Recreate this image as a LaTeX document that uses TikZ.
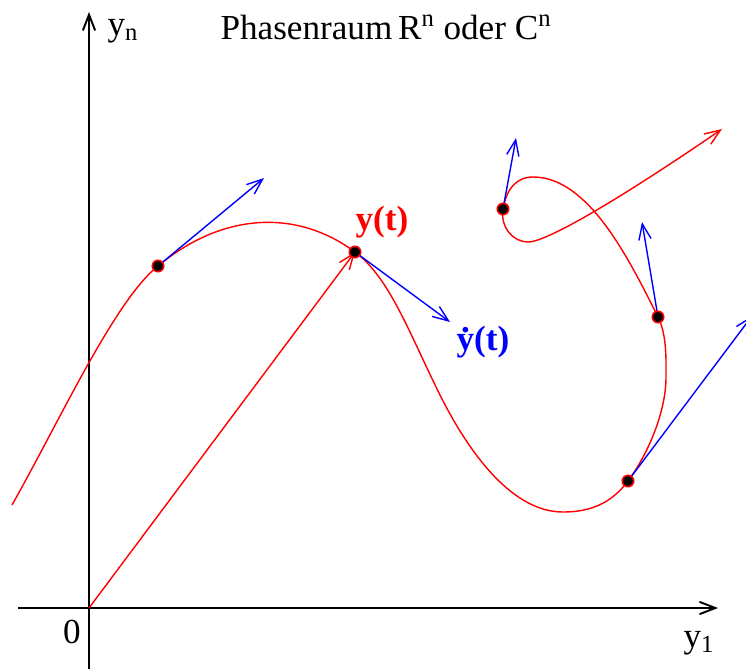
\documentclass[tikz,border=0pt]{standalone}
\usepackage{fontspec}
\setmainfont{Liberation Serif}
\usetikzlibrary{arrows.meta}
\newcommand{\ydot}{\ooalign{y\cr\hidewidth\raisebox{0.5em}{.}\hidewidth\cr}}

\begin{document}
\begin{tikzpicture}[x=0.02cm,y=-0.02cm,
  tip/.style={-{Straight Barb[length=9pt,width=7pt]}},
  dot/.style={circle,fill=black,draw=red,line width=0.9pt,inner sep=0pt,minimum size=6.5pt},
  lbl/.style={font=\fontsize{20}{24}\selectfont},
  bflbl/.style={font=\fontsize{20}{24}\selectfont\bfseries}]
  \useasboundingbox (0,0) rectangle (746,669);
  \clip (0,0) rectangle (746,669);

  % Axes
  \coordinate (O) at (89,608);
  \coordinate (Xs) at (18,608);
  \coordinate (X) at (718,608);
  \coordinate (Ys) at (89,669);
  \coordinate (Y) at (89,12);
  \draw[tip,line width=1.1pt] (Xs) -- (X);
  \draw[tip,line width=1.1pt] (Ys) -- (Y);

  % Points on the trajectory
  \coordinate (p1) at (158,266);
  \coordinate (p2) at (355,252);
  \coordinate (p3) at (503,209);
  \coordinate (p4) at (658,317);
  \coordinate (p5) at (628,481);

  % Trajectory
  \draw[red,line width=0.8pt,tip] (12,505)
    .. controls (60,420) and (115,300) .. (p1)
    .. controls (223,212) and (297,209) .. (p2)
    .. controls (390,278) and (410,335) .. (440,395)
    .. controls (470,455) and (513,512) .. (563,512)
    .. controls (588,512) and (610,505) .. (p5)
    .. controls (648,454) and (666,412) .. (666,377)
    .. controls (666,360) and (667,335) .. (p4)
    .. controls (628,257) and (588,177) .. (533,177)
    .. controls (515,177) and (506,191) .. (p3)
    .. controls (500,227) and (513,242) .. (528,242)
    .. controls (550,242) and (642,184) .. (722,129);

  % Position vector
  \draw[red,line width=0.8pt,tip] (O) -- (p2);

  % Tangent vectors
  \coordinate (v1) at (264,178);
  \coordinate (v2) at (450,322);
  \coordinate (v3) at (516,138);
  \coordinate (v4) at (642,222);
  \coordinate (v5) at (752,316);
  \foreach \i in {1,...,5}
    \draw[blue,line width=0.8pt,tip] (p\i) -- (v\i);
  \foreach \i in {1,...,5}
    \node[dot] (d\i) at (p\i) {};

  % Labels
  \node[lbl] (yn) at (123,31) {y\textsubscript{n}};
  \node[lbl] (title) at (386,27) {Phasenraum\,R\textsuperscript{n} oder C\textsuperscript{n}};
  \node[lbl] (zero) at (72,632) {0};
  \node[lbl] (y1) at (699,643) {y\textsubscript{1}};
  \node[bflbl,red] (ylbl) at (382,222) {y(t)};
  \node[bflbl,blue] (ydlbl) at (483,342) {\ydot(t)};
\end{tikzpicture}
\end{document}
